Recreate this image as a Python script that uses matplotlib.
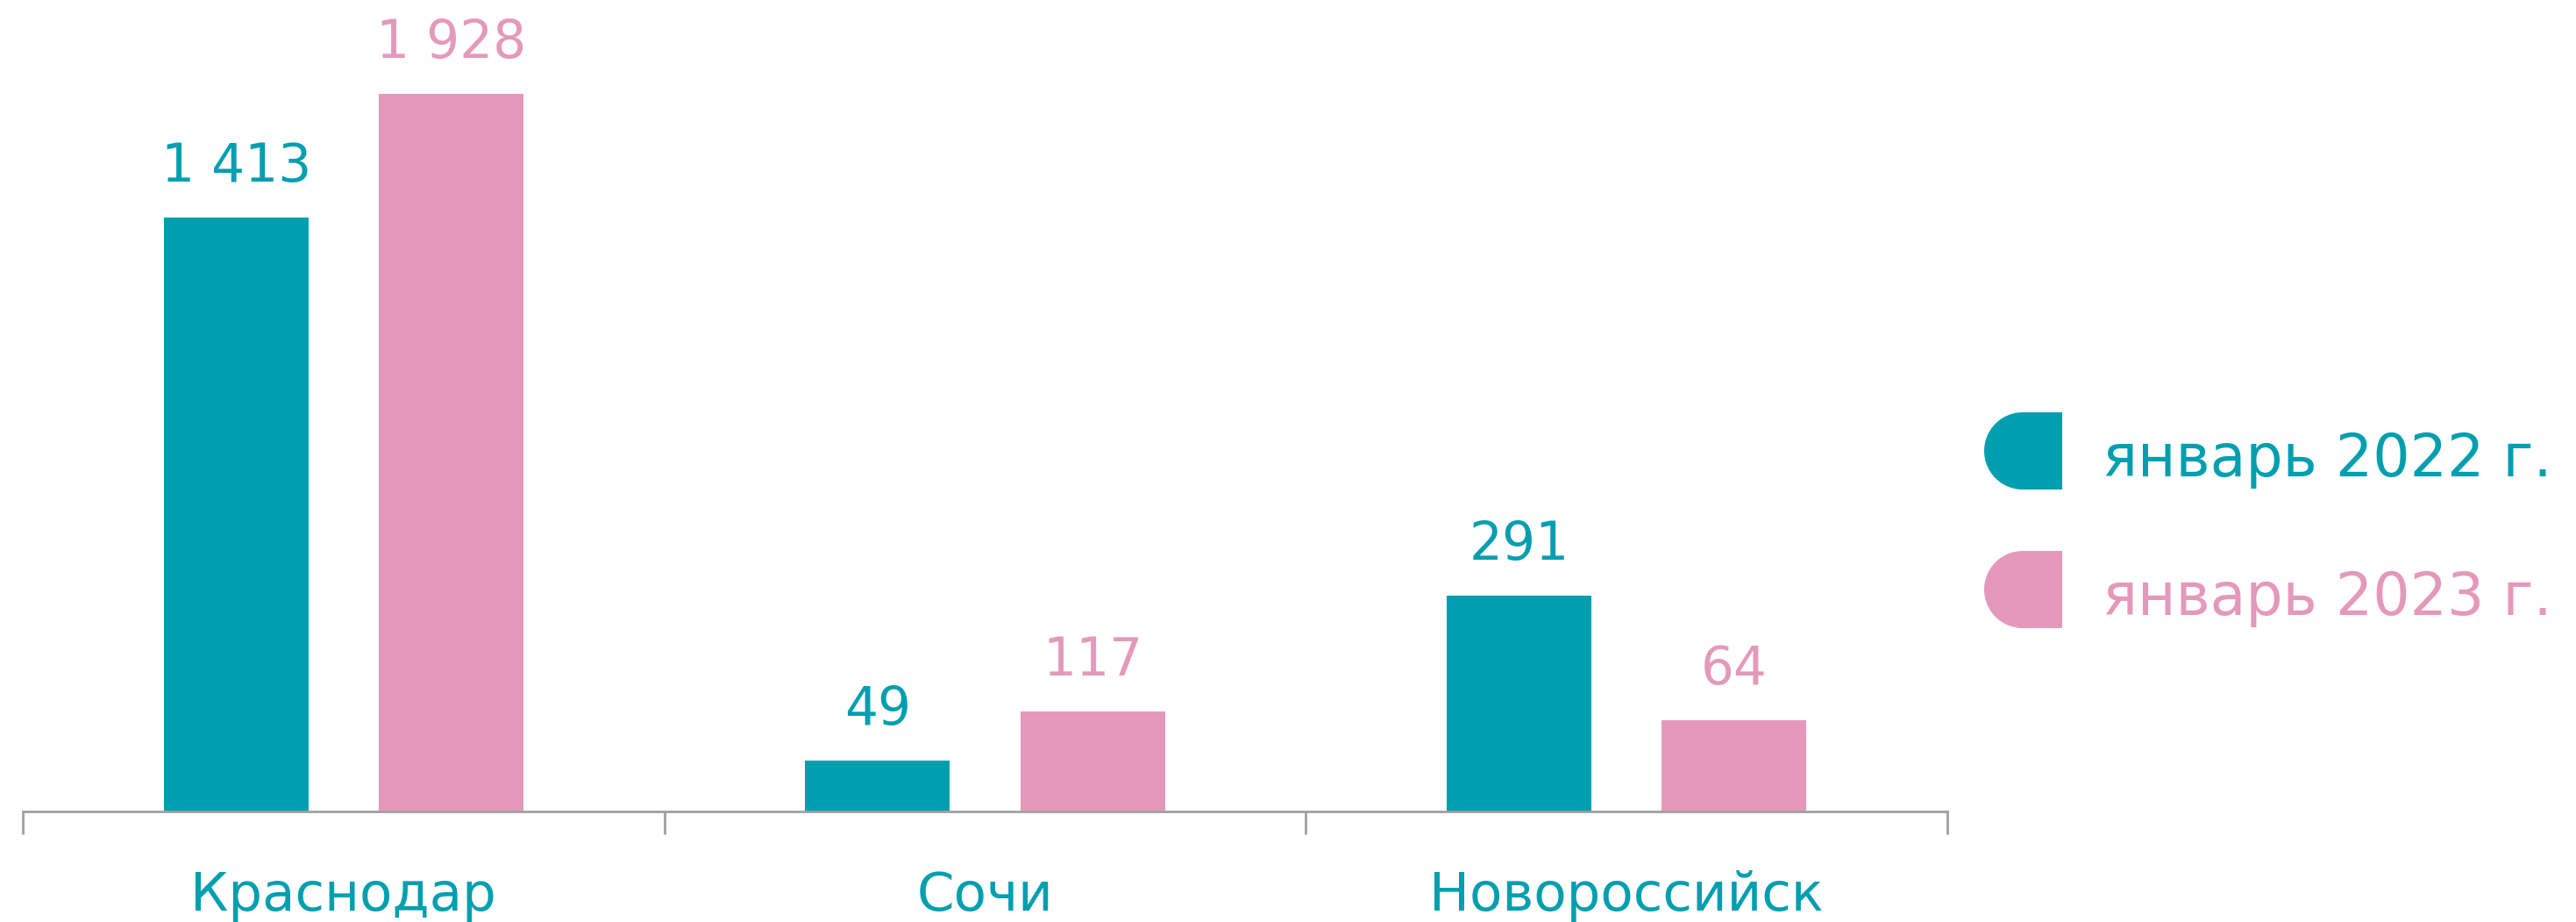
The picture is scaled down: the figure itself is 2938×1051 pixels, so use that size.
import matplotlib
matplotlib.use("Agg")
import matplotlib.pyplot as plt
from matplotlib.patches import Wedge, Rectangle
import numpy as np

# data
cities = ["Краснодар", "Сочи", "Новороссийск"]
series_names = ["январь 2022 г.", "январь 2023 г."]
values_2022 = [1413, 49, 291]
values_2023 = [1928, 117, 64]
labels_2022 = ["1 413", "49", "291"]
labels_2023 = ["1 928", "117", "64"]
# the source chart is not drawn to scale, so bar lengths are read off the
# picture separately (percent of the tallest bar)
drawn_2022 = [82.8, 7.1, 30.1]
drawn_2023 = [100.0, 13.9, 12.7]

teal = "#009FB0"
pink = "#E499BC"
grey = "#A0A0A0"

W, H = 2938, 1051
fig = plt.figure(figsize=(W / 100, H / 100), dpi=100)
plt.rcParams["font.family"] = ["DejaVu Sans"]

base_y = 925
ax = fig.add_axes([26 / W, 1 - base_y / H, (2221 - 26) / W, base_y / H])

x = np.arange(len(cities))
bw = 0.2257
off = 0.1676
ax.bar(x - off, drawn_2022, width=bw, color=teal)
ax.bar(x + off, drawn_2023, width=bw, color=pink)

ax.set_xlim(-0.5, len(cities) - 0.5)
ax.set_ylim(0, 100 * base_y / 818)

for s in ["top", "right", "left"]:
    ax.spines[s].set_visible(False)
ax.spines["bottom"].set_color(grey)
ax.spines["bottom"].set_linewidth(2.0)
ax.set_yticks([])
ax.set_xticks([])
ax.set_xticks(np.arange(len(cities) + 1) - 0.5, minor=True)
ax.tick_params(axis="x", which="minor", length=18.7, width=2.0, color=grey)

for i in range(len(cities)):
    ax.annotate(labels_2022[i], xy=(x[i] - off, drawn_2022[i]), xytext=(0, 29.5),
                textcoords="offset points", ha="center", va="baseline",
                fontsize=43, color=teal)
    ax.annotate(labels_2023[i], xy=(x[i] + off, drawn_2023[i]), xytext=(0, 29.5),
                textcoords="offset points", ha="center", va="baseline",
                fontsize=43, color=pink)
    ax.annotate(cities[i], xy=(x[i], 0), xycoords=("data", "axes fraction"),
                xytext=(0, -81.4), textcoords="offset points",
                ha="center", va="baseline", fontsize=44, color=teal)

# legend
lax = fig.add_axes([0, 0, 1, 1])
lax.set_xlim(0, W)
lax.set_ylim(H, 0)
lax.axis("off")
for name, col, cy in zip(series_names, [teal, pink], [514, 672]):
    lax.add_patch(Wedge((2307, cy), 44, 90, 270, color=col, lw=0))
    lax.add_patch(Rectangle((2306, cy - 44), 46, 88, color=col, lw=0))
    lax.text(2398, cy + 29, name, fontsize=48, color=col, ha="left", va="baseline")

fig.savefig("out.png", dpi=100)
